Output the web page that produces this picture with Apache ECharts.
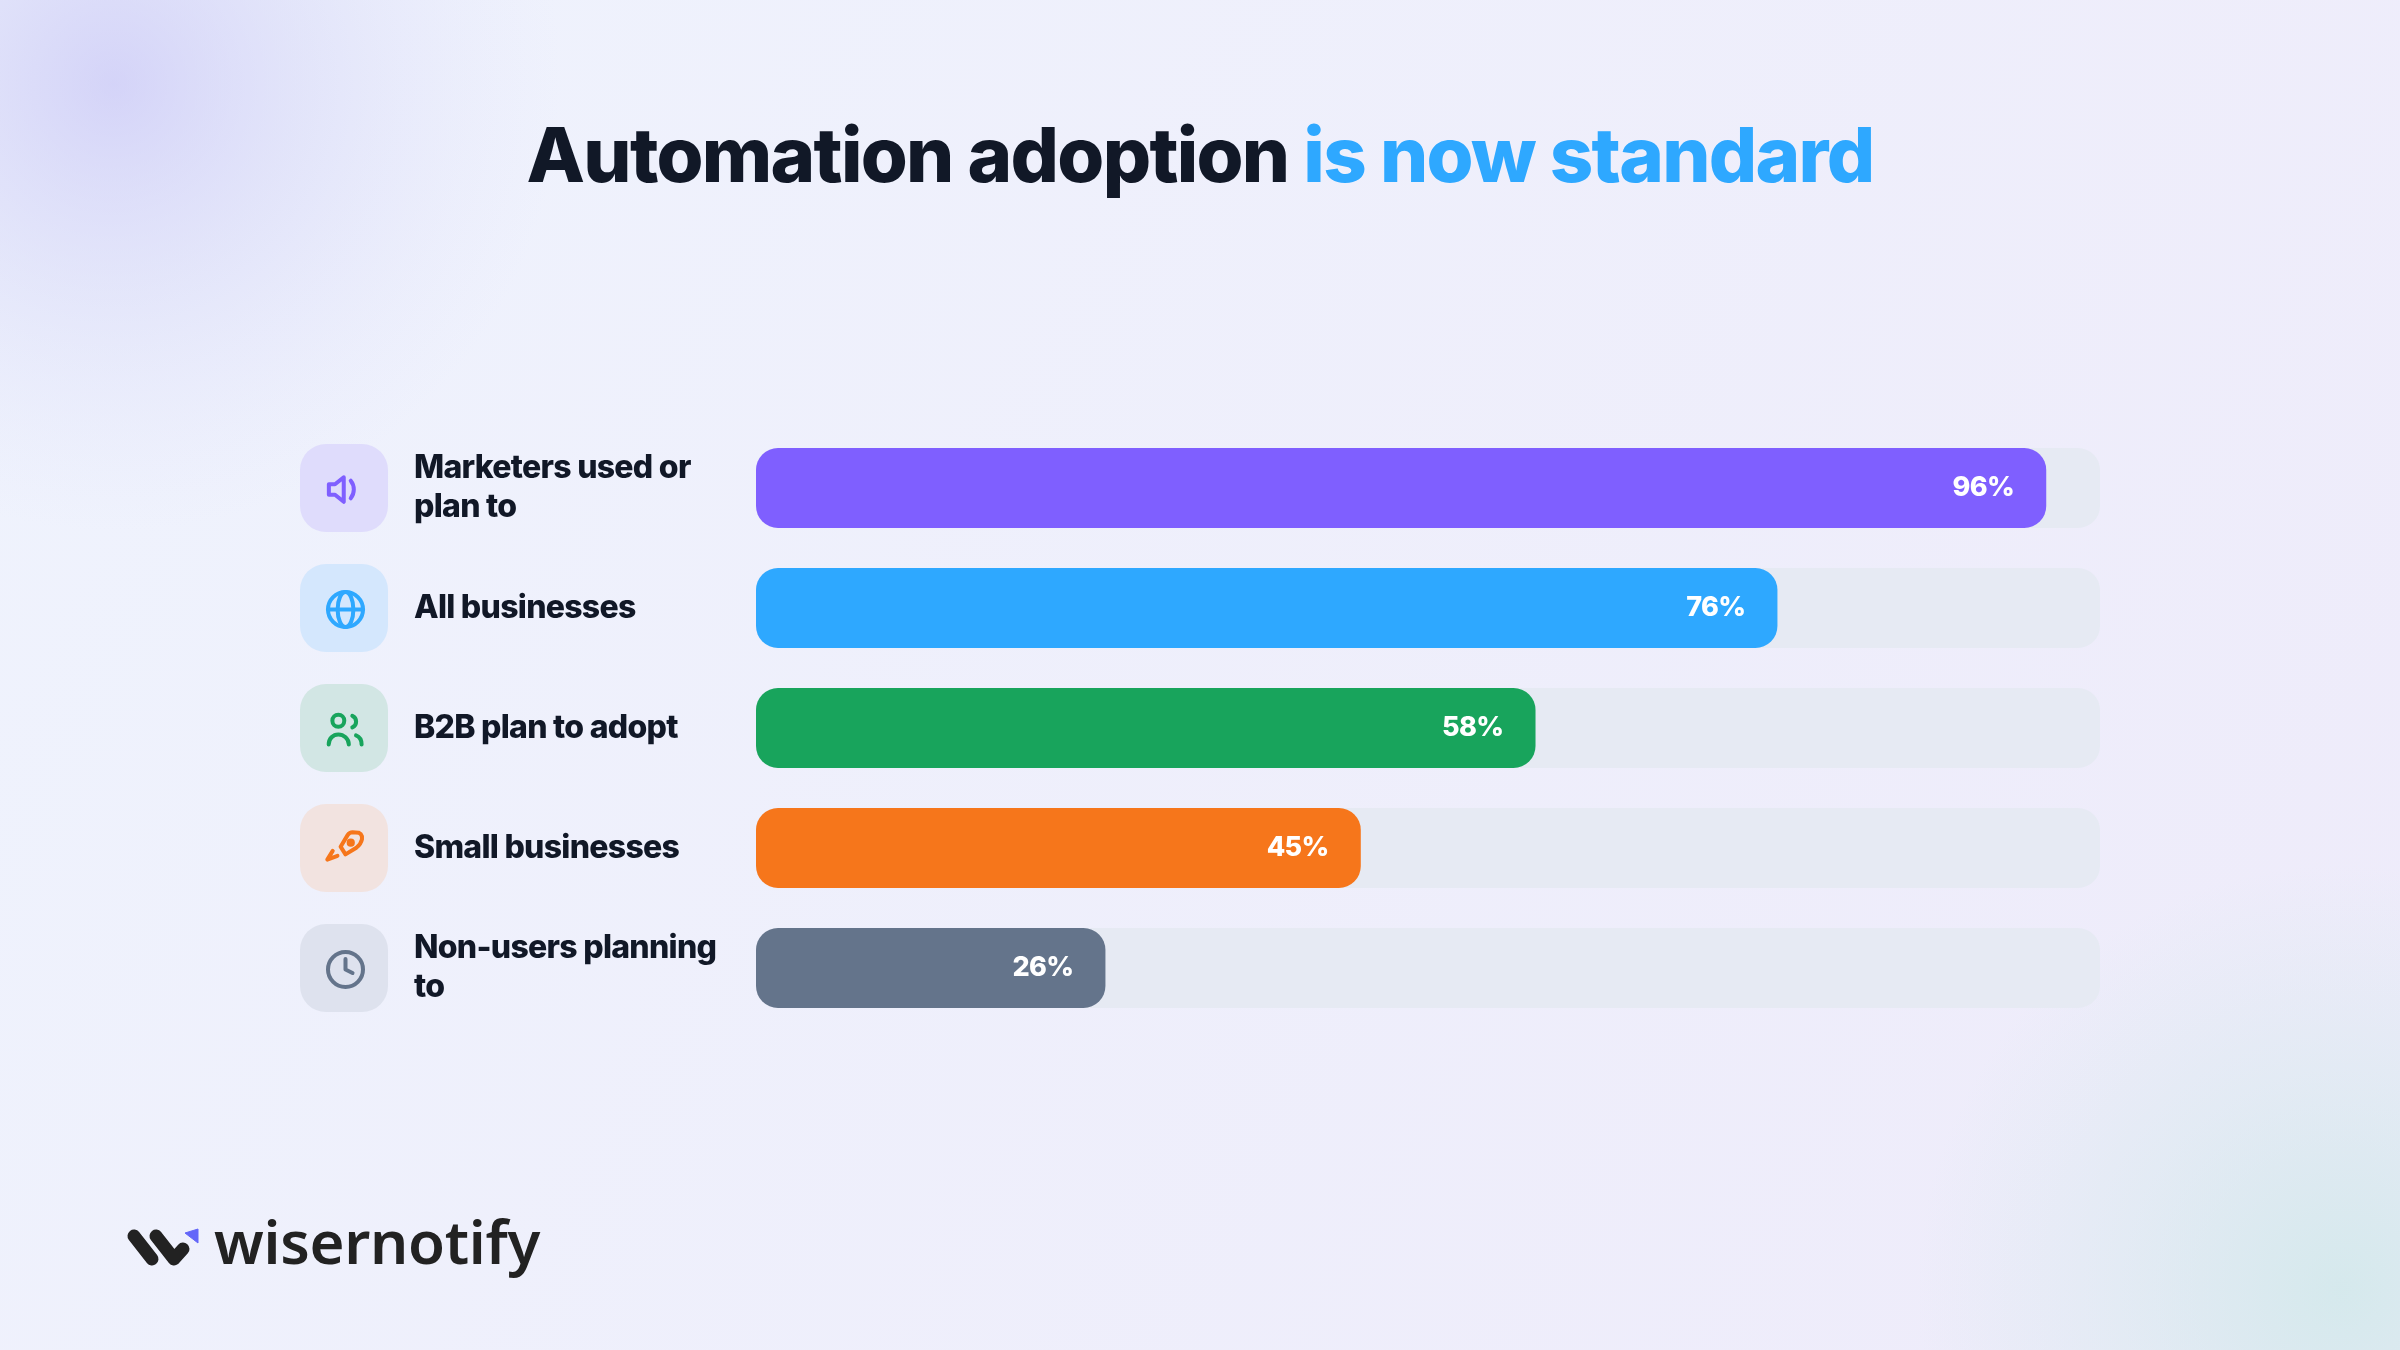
<!DOCTYPE html>
<html><head><meta charset="utf-8">
<style>html,body{margin:0;padding:0;width:2400px;height:1350px;overflow:hidden}#c{width:2400px;height:1350px}</style>
<script src="https://cdn.jsdelivr.net/npm/echarts@6/dist/echarts.min.js"></script>
</head><body><div id="c"></div>
<script>
const categories = ['Marketers used or plan to','All businesses','B2B plan to adopt','Small businesses','Non-users planning to'];
const values = [96,76,58,45,26];
const barColors = ['#7F5FFF','#2EA8FF','#18A45C','#F6761B','#64748B'];
const tileColors = ['#DFDCFC','#D4E7FD','#D2E6E4','#F2E3E0','#DEE2EE'];
const iconBodies = [
 '<path d="M11 5 6 9H2.5v6H6l5 4z"/><path d="M15 7a8 8 0 0 1 0 10"/>',
 '<circle cx="12" cy="12" r="10"/><ellipse cx="12" cy="12" rx="4.5" ry="10"/><path d="M2 12h20"/>',
 '<circle cx="7.9" cy="7" r="3.4"/><path d="M2.4 20.6c0-3.4 2.5-5.8 5.5-5.8s6 2.4 6 5.8"/><path d="M15.9 4.2a3.6 3.6 0 0 1 0 6.6"/><path d="M18 15.4c1.8.7 3.2 2.7 3.2 5.2"/>',
 '<path d="M9.2 10.4 13.2 3.8Q14.3 2.2 16 2.2L19.5 2.4Q21 3 21.4 4.5L21.4 6.2Q20.8 9 18.2 11L12 14.8Z"/><circle cx="15" cy="8.1" r="1.2"/><path d="M4.7 12.8 1.6 17.8 7.4 15.6"/>',
 '<circle cx="12" cy="12" r="10"/><path d="M12 6v6l4 2"/>'
];
function iconUrl(i){
  const svg='<svg xmlns="http://www.w3.org/2000/svg" width="84" height="84" viewBox="0 0 24 24" fill="none" stroke="'+barColors[i]+'" stroke-width="2.3" stroke-linecap="round" stroke-linejoin="round">'+iconBodies[i]+'</svg>';
  return 'data:image/svg+xml;charset=utf-8,'+encodeURIComponent(svg);
}
// tight tracking for Inter text; the library's text engine has no letter-spacing option
(function(){
  const P=CanvasRenderingContext2D.prototype;
  const track=function(ctx){
    const m=/([\d.]+)px/.exec(ctx.font||'');
    const em=/Inter/.test(ctx.font)?-0.0225:-0.005;
    ctx.letterSpacing=(m?parseFloat(m[1])*em:0)+'px';
  };
  const ft=P.fillText, mt=P.measureText;
  P.fillText=function(){track(this);return ft.apply(this,arguments);};
  P.measureText=function(){track(this);return mt.apply(this,arguments);};
})();
const inter='Inter';
const chart=echarts.init(document.getElementById('c'),null,{renderer:'canvas',width:2400,height:1350});
chart.setOption({
  animation:false,
  backgroundColor:{type:'linear',x:0,y:0,x2:1,y2:1,colorStops:[{offset:0,color:'#EFF3FD'},{offset:1,color:'#EEEBFA'}]},
  title:{left:'center',top:109,itemGap:0,
    text:'{a|Automation adoption }{b|is now standard}',
    textStyle:{rich:{
      a:{fontFamily:inter,fontWeight:800,fontSize:76,color:'#111827',lineHeight:90},
      b:{fontFamily:inter,fontWeight:800,fontSize:76,color:'#2EA8FF',lineHeight:90}
    }}},
  grid:{left:756,top:428,width:1344,height:600,containLabel:false},
  xAxis:{type:'value',min:0,max:100,show:false},
  yAxis:{type:'category',inverse:true,data:categories,
    axisLine:{show:false},axisTick:{show:false},
    axisLabel:{margin:342,align:'left',width:312,overflow:'break',fontFamily:inter,fontWeight:800,fontSize:32,lineHeight:39,color:'#111827'}},
  series:[
    {type:'bar',data:values.map((v,i)=>({value:v,itemStyle:{color:barColors[i]}})),barWidth:80,
     showBackground:true,backgroundStyle:{color:'#E6EAF3',borderRadius:22},
     itemStyle:{borderRadius:22},
     label:{show:true,position:'insideRight',distance:32,formatter:'{c}%',color:'#FFFFFF',fontFamily:inter,fontWeight:800,fontSize:27}},
    {type:'custom',coordinateSystem:'cartesian2d',clip:false,silent:true,
     data:categories.map((c,i)=>[0,i]),
     encode:{x:0,y:1},
     renderItem(params,api){
       const p=api.coord([0,api.value(1)]);
       const i=params.dataIndex;
       const cx=p[0]-412, cy=p[1];
       return {type:'group',children:[
         {type:'rect',shape:{x:cx-44,y:cy-44,width:88,height:88,r:26},style:{fill:tileColors[i]}},
         {type:'image',style:{image:iconUrl(i),x:cx-19.5,y:cy-19.5,width:42,height:42}}
       ]};
     }}
  ],
  graphic:[
    {type:'rect',z:-10,shape:{x:0,y:0,width:760,height:560},style:{fill:{type:'radial',x:0.15,y:0.15,r:0.8,colorStops:[{offset:0,color:'rgba(190,186,244,0.55)'},{offset:0.5,color:'rgba(205,205,245,0.3)'},{offset:1,color:'rgba(220,220,250,0)'}]}},silent:true},
    {type:'rect',z:-10,shape:{x:1750,y:850,width:650,height:500},style:{fill:{type:'radial',x:0.91,y:0.88,r:0.85,colorStops:[{offset:0,color:'rgba(205,232,232,0.75)'},{offset:0.5,color:'rgba(205,232,232,0.35)'},{offset:1,color:'rgba(205,232,232,0)'}]}},silent:true},
    {type:'polyline',shape:{points:[[134,1236],[152,1259]]},style:{stroke:'#222222',lineWidth:13,lineCap:'round',fill:null}},
    {type:'polyline',shape:{points:[[156,1236],[174,1259],[183,1249]]},style:{stroke:'#222222',lineWidth:13,lineCap:'round',lineJoin:'round',fill:null}},
    {type:'polygon',shape:{points:[[185,1233],[198,1229],[198,1243]]},style:{fill:'#6366F9',stroke:'#6366F9',lineWidth:1,lineJoin:'round'}},
    {type:'text',x:214,y:1247,style:{text:'wisernotify',fill:'#222222',fontFamily:'Noto Sans',fontWeight:600,fontSize:60,verticalAlign:'middle',align:'left'}}
  ]
});
</script></body></html>
